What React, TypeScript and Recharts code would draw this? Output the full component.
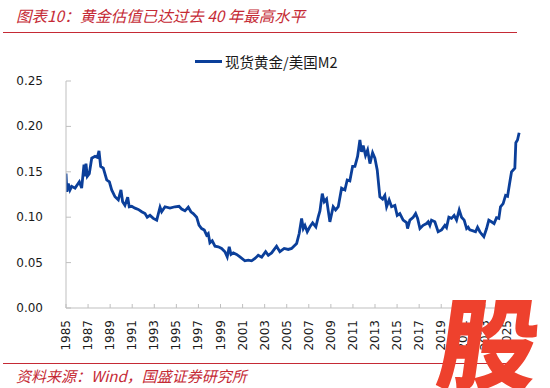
import React from 'react';
import { LineChart, Line, XAxis, YAxis } from 'recharts';

const years: number[] = [
  1985.0, 1985.08, 1985.21, 1985.36, 1985.52, 1985.82, 1986.21, 1986.42, 1986.63, 1986.72,
  1986.81, 1986.93, 1987.11, 1987.33, 1987.63, 1987.84, 1987.99, 1988.14, 1988.38, 1988.69,
  1988.93, 1989.14, 1989.44, 1989.74, 1989.98, 1990.13, 1990.34, 1990.59, 1990.73, 1990.95,
  1991.25, 1991.55, 1991.86, 1992.16, 1992.36, 1992.61, 1992.91, 1993.22, 1993.52, 1993.67,
  1993.97, 1994.42, 1994.87, 1995.24, 1995.48, 1995.78, 1996.08, 1996.32, 1996.53, 1996.84,
  1997.05, 1997.29, 1997.53, 1997.74, 1997.89, 1998.04, 1998.25, 1998.5, 1998.8, 1999.1,
  1999.4, 1999.61, 1999.79, 1999.95, 2000.16, 2000.46, 2000.76, 2001.21, 2001.51, 2001.82,
  2002.12, 2002.42, 2002.73, 2003.09, 2003.33, 2003.63, 2004.08, 2004.38, 2004.77, 2005.14,
  2005.44, 2005.9, 2006.13, 2006.35, 2006.5, 2006.65, 2006.86, 2007.1, 2007.35, 2007.64,
  2007.85, 2008.01, 2008.22, 2008.4, 2008.61, 2008.91, 2009.21, 2009.43, 2009.67, 2009.97,
  2010.27, 2010.48, 2010.72, 2010.97, 2011.18, 2011.42, 2011.63, 2011.78, 2011.93, 2012.14,
  2012.33, 2012.54, 2012.78, 2012.99, 2013.2, 2013.44, 2013.69, 2013.89, 2014.05, 2014.28,
  2014.5, 2014.8, 2015.01, 2015.25, 2015.55, 2015.86, 2015.95, 2016.16, 2016.46, 2016.68,
  2016.86, 2017.07, 2017.36, 2017.67, 2017.82, 2017.97, 2018.12, 2018.42, 2018.72, 2019.03,
  2019.33, 2019.48, 2019.69, 2019.93, 2020.17, 2020.39, 2020.63, 2020.84, 2021.08, 2021.3,
  2021.44, 2021.59, 2021.89, 2022.11, 2022.29, 2022.5, 2022.65, 2022.86, 2023.11, 2023.31,
  2023.55, 2023.79, 2024.01, 2024.22, 2024.37, 2024.61, 2024.83, 2025.01, 2025.22, 2025.37,
  2025.52, 2025.67, 2025.76, 2025.91, 2026.06,
];

const goldToM2: number[] = [
  0.148, 0.128, 0.137, 0.130, 0.134, 0.132, 0.139, 0.132, 0.158, 0.145,
  0.159, 0.145, 0.148, 0.165, 0.167, 0.166, 0.173, 0.156, 0.154, 0.141,
  0.139, 0.130, 0.1225, 0.119, 0.130, 0.117, 0.113, 0.122, 0.1115, 0.112,
  0.110, 0.1086, 0.106, 0.104, 0.100, 0.102, 0.0987, 0.0968, 0.111, 0.106,
  0.1115, 0.110, 0.1115, 0.112, 0.109, 0.107, 0.111, 0.106, 0.104, 0.100,
  0.0912, 0.0875, 0.0858, 0.0802, 0.082, 0.0718, 0.074, 0.0681, 0.0674, 0.0656,
  0.062, 0.0563, 0.0674, 0.059, 0.0607, 0.059, 0.0563, 0.0519, 0.0526, 0.0519,
  0.0545, 0.058, 0.056, 0.062, 0.058, 0.0607, 0.068, 0.062, 0.0656, 0.0645,
  0.0656, 0.0711, 0.082, 0.0987, 0.0875, 0.091, 0.084, 0.0894, 0.0938, 0.0894,
  0.100, 0.107, 0.126, 0.117, 0.120, 0.0949, 0.1115, 0.108, 0.1115, 0.132,
  0.130, 0.141, 0.140, 0.156, 0.156, 0.167, 0.185, 0.172, 0.179, 0.168,
  0.174, 0.159, 0.171, 0.165, 0.152, 0.1225, 0.120, 0.124, 0.1115, 0.119,
  0.1115, 0.113, 0.102, 0.104, 0.0968, 0.094, 0.0875, 0.0968, 0.100, 0.104,
  0.0987, 0.0875, 0.091, 0.093, 0.095, 0.091, 0.0968, 0.095, 0.084, 0.086,
  0.091, 0.0886, 0.100, 0.0987, 0.102, 0.0968, 0.108, 0.100, 0.0968, 0.0875,
  0.089, 0.086, 0.085, 0.084, 0.089, 0.084, 0.0815, 0.0785, 0.0875, 0.0968,
  0.095, 0.093, 0.0995, 0.0987, 0.1115, 0.115, 0.124, 0.123, 0.139, 0.150,
  0.152, 0.154, 0.182, 0.185, 0.193,
];

const xTicks: number[] = [1985, 1987, 1989, 1991, 1993, 1995, 1997, 1999, 2001, 2003, 2005, 2007, 2009, 2011, 2013, 2015, 2017, 2019, 2021, 2023, 2025];
const yTicks: number[] = [0, 0.05, 0.1, 0.15, 0.2, 0.25];

const seriesName = '现货黄金/美国M2';
const titleText = '图表10：黄金估值已达过去 40 年最高水平';
const sourceText = '资料来源：Wind，国盛证券研究所';

const data = years.map((t, i) => ({ t, v: goldToM2[i] }));

const AXIS = '#BFBFBF';
const LINE = '#0B3F9A';
const RED = '#C52A35';
const FONT = '"DejaVu Sans", Verdana, sans-serif';
const CJK = '"Noto Sans CJK SC", "Noto Sans", sans-serif';

const XTick = (props: any) => {
  const { x, y, payload } = props;
  const ty = y + 12;
  return (
    <g>
      <line x1={x} x2={x} y1={y - 4} y2={y} stroke={AXIS} strokeWidth={1} />
      <text
        x={x}
        y={ty}
        transform={`rotate(-90 ${x} ${ty})`}
        textAnchor="end"
        dominantBaseline="central"
        fontSize={12}
        fontFamily={FONT}
        fill="#1a1a1a"
      >
        {payload.value}
      </text>
    </g>
  );
};

const YTick = (props: any) => {
  const { x, y, payload } = props;
  return (
    <g>
      <line x1={x} x2={x + 5} y1={y} y2={y} stroke={AXIS} strokeWidth={1} />
      <text
        x={x - 23}
        y={y}
        textAnchor="end"
        dominantBaseline="central"
        fontSize={12}
        fontFamily={FONT}
        fill="#1a1a1a"
      >
        {Number(payload.value).toFixed(2)}
      </text>
    </g>
  );
};

export default function App() {
  return (
    <div style={{ position: 'absolute', left: 0, top: 0, width: 550, height: 388, background: '#fff', overflow: 'hidden' }}>
      <div
        style={{
          position: 'absolute', left: 16, top: 5, fontSize: 15.5, lineHeight: '20px',
          fontFamily: CJK, fontStyle: 'italic', color: RED, whiteSpace: 'pre',
        }}
      >
        {titleText}
      </div>
      <div style={{ position: 'absolute', left: 3, top: 32, width: 514, height: 1, background: RED }} />

      <div style={{ position: 'absolute', left: 195, top: 52, height: 18, display: 'flex', alignItems: 'center' }}>
        <div style={{ width: 27, height: 3, background: LINE, marginRight: 3 }} />
        <span style={{ fontSize: 14.5, fontFamily: CJK, color: '#1a1a1a', whiteSpace: 'pre' }}>{seriesName}</span>
      </div>

      <div style={{ position: 'absolute', left: 0, top: 0 }}>
        <LineChart width={550} height={388} data={data} margin={{ top: 81, right: 26, bottom: 30, left: 0 }}>
          <XAxis
            dataKey="t"
            type="number"
            domain={[1985, 2026.5]}
            ticks={xTicks}
            interval={0}
            allowDataOverflow
            height={50}
            stroke={AXIS}
            tickLine={false}
            tickSize={0}
            tickMargin={0}
            tick={<XTick />}
          />
          <YAxis
            type="number"
            domain={[0, 0.25]}
            ticks={yTicks}
            interval={0}
            width={66}
            stroke={AXIS}
            tickLine={false}
            tickSize={0}
            tickMargin={0}
            tick={<YTick />}
          />
          <Line
            type="linear"
            dataKey="v"
            name={seriesName}
            stroke={LINE}
            strokeWidth={2.8}
            dot={false}
            isAnimationActive={false}
          />
        </LineChart>
      </div>

      <div style={{ position: 'absolute', left: 3, top: 363, width: 514, height: 1, background: RED }} />
      <div
        style={{
          position: 'absolute', left: 16, top: 366, fontSize: 15, lineHeight: '20px',
          fontFamily: CJK, fontStyle: 'italic', color: RED, whiteSpace: 'pre',
        }}
      >
        {sourceText}
      </div>

      <div
        style={{
          position: 'absolute', left: 440, top: 284, fontSize: 100, lineHeight: '110px',
          fontFamily: CJK, fontWeight: 900, color: '#EE412D', transform: 'skewX(-8deg)',
        }}
      >
        股
      </div>
    </div>
  );
}
